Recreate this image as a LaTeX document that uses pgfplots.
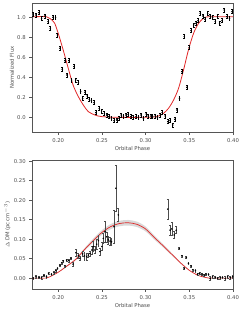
\documentclass[border=0pt]{standalone}
\usepackage{pgfplots}
\pgfplotsset{compat=1.18}
\usepgfplotslibrary{fillbetween}
\usepackage{fontspec}
\setmainfont{DejaVu Sans}
\usepackage{pgfplotstable}

\pgfplotstableread{
x y ey
0.1713 1.033 0.02
0.1744 1.023 0.02
0.1778 1.047 0.02
0.1810 0.990 0.02
0.1847 1.013 0.02
0.1885 0.957 0.02
0.1910 0.890 0.02
0.1940 1.000 0.02
0.1970 1.000 0.02
0.1990 0.823 0.02
0.2020 0.690 0.02
0.2046 0.480 0.02
0.2076 0.567 0.02
0.2100 0.423 0.02
0.2120 0.567 0.02
0.2153 0.373 0.02
0.2180 0.507 0.02
0.2200 0.373 0.02
0.2230 0.347 0.02
0.2256 0.257 0.02
0.2280 0.190 0.02
0.2306 0.250 0.02
0.2333 0.213 0.02
0.2356 0.180 0.02
0.2380 0.167 0.02
0.2410 0.147 0.02
0.2430 0.047 0.02
0.2470 0.090 0.02
0.2497 0.063 0.02
0.2528 0.040 0.02
0.2555 0.023 0.02
0.2580 0.007 0.02
0.2610 -0.010 0.02
0.2639 -0.033 0.02
0.2670 -0.027 0.02
0.2696 -0.010 0.02
0.2720 0.023 0.02
0.2746 0.013 0.02
0.2776 0.023 0.02
0.2800 0.030 0.02
0.2830 0.007 0.02
0.2860 0.000 0.02
0.2890 0.007 0.02
0.2918 0.000 0.02
0.2948 0.023 0.02
0.2975 -0.010 0.02
0.3006 0.033 0.02
0.3030 0.013 0.02
0.3060 0.013 0.02
0.3080 0.007 0.02
0.3110 0.013 0.02
0.3136 0.000 0.02
0.3166 0.023 0.02
0.3190 0.047 0.02
0.3224 0.013 0.02
0.3254 -0.043 0.02
0.3280 -0.033 0.02
0.3310 -0.077 0.02
0.3335 -0.020 0.02
0.3358 0.073 0.02
0.3388 0.190 0.02
0.3415 0.457 0.02
0.3442 0.807 0.02
0.3472 0.300 0.02
0.3500 0.697 0.02
0.3520 0.867 0.02
0.3550 0.923 0.02
0.3576 0.940 0.02
0.3600 0.967 0.02
0.3625 1.040 0.02
0.3656 1.013 0.02
0.3680 0.980 0.02
0.3710 1.040 0.02
0.3740 1.013 0.02
0.3767 1.000 0.02
0.3797 0.957 0.02
0.3824 1.007 0.02
0.3847 0.940 0.02
0.3874 0.967 0.02
0.3900 1.073 0.02
0.3930 1.007 0.02
0.3960 0.990 0.02
0.3989 1.057 0.02
}\fluxdata

\pgfplotstableread{
x y
0.1700 1.005
0.1866 1.005
0.1935 0.967
0.1960 0.940
0.2000 0.840
0.2057 0.673
0.2115 0.490
0.2170 0.323
0.2230 0.207
0.2287 0.123
0.2344 0.057
0.2420 0.023
0.2497 0.007
0.2670 0.000
0.2975 0.000
0.3128 0.007
0.3205 0.040
0.3262 0.090
0.3320 0.173
0.3377 0.290
0.3434 0.473
0.3490 0.673
0.3549 0.840
0.3606 0.940
0.3663 0.990
0.3720 1.005
0.4000 1.005
}\fluxmodel

\pgfplotstableread{
x y ey
0.1713 0.0000 0.003
0.1744 0.0034 0.003
0.1780 0.0017 0.003
0.1810 0.0010 0.003
0.1836 0.0070 0.003
0.1866 0.0034 0.003
0.1890 0.0120 0.003
0.1923 0.0100 0.003
0.1950 0.0137 0.003
0.1973 0.0190 0.003
0.1992 0.0250 0.003
0.2020 0.0330 0.003
0.2040 0.0390 0.003
0.2057 0.0440 0.003
0.2076 0.0310 0.003
0.2096 0.0460 0.003
0.2120 0.0450 0.003
0.2145 0.0510 0.003
0.2170 0.0360 0.006
0.2203 0.0650 0.009
0.2230 0.0570 0.006
0.2248 0.0510 0.004
0.2280 0.0620 0.006
0.2300 0.0570 0.010
0.2325 0.0550 0.009
0.2344 0.0590 0.006
0.2363 0.0630 0.006
0.2386 0.0720 0.010
0.2400 0.0810 0.013
0.2420 0.0720 0.009
0.2440 0.0870 0.013
0.2460 0.0960 0.013
0.2478 0.0680 0.009
0.2500 0.0810 0.010
0.2516 0.1020 0.013
0.2535 0.1190 0.026
0.2555 0.1060 0.013
0.2573 0.0980 0.010
0.2593 0.0950 0.010
0.2610 0.0930 0.009
0.2639 0.1320 0.043
0.2660 0.2306 0.058
0.2688 0.1620 0.017
0.3254 0.1770 0.026
0.3280 0.1230 0.013
0.3300 0.1260 0.017
0.3327 0.1106 0.009
0.3350 0.1230 0.009
0.3384 0.0760 0.003
0.3415 0.0570 0.003
0.3442 0.0250 0.003
0.3465 0.0530 0.003
0.3490 0.0380 0.003
0.3520 0.0310 0.003
0.3540 0.0210 0.003
0.3570 0.0190 0.003
0.3595 0.0103 0.003
0.3618 0.0120 0.003
0.3644 0.0100 0.003
0.3670 0.0077 0.003
0.3690 0.0103 0.003
0.3720 0.0094 0.003
0.3740 -0.0010 0.005
0.3767 0.0034 0.003
0.3797 0.0017 0.003
0.3824 0.0000 0.003
0.3855 0.0010 0.003
0.3880 0.0017 0.003
0.3910 -0.0010 0.005
0.3939 0.0034 0.003
0.3970 0.0010 0.003
0.3996 0.0034 0.003
}\dmdata

\pgfplotstableread{
x y lo hi
0.170 0.000 0.000 0.000
0.186 0.000 0.000 0.000
0.190 0.003 0.0028 0.0032
0.200 0.015 0.0143 0.0158
0.210 0.031 0.0295 0.0326
0.220 0.048 0.0456 0.0504
0.230 0.073 0.0694 0.0767
0.240 0.096 0.0912 0.1008
0.250 0.117 0.1112 0.1229
0.260 0.132 0.1254 0.1386
0.270 0.140 0.1330 0.1470
0.280 0.142 0.1349 0.1491
0.290 0.138 0.1311 0.1449
0.300 0.126 0.1197 0.1323
0.310 0.104 0.0988 0.1092
0.320 0.083 0.0789 0.0872
0.330 0.061 0.0580 0.0641
0.340 0.039 0.0371 0.0410
0.350 0.020 0.0190 0.0210
0.360 0.007 0.0067 0.0074
0.370 0.001 0.0010 0.0011
0.375 0.000 0.000 0.000
0.400 0.000 0.000 0.000
}\dmmodel

\definecolor{modelred}{RGB}{225,40,40}
\definecolor{framegray}{RGB}{85,85,85}

\pgfplotsset{
  myax/.style={
    scale only axis, width=201pt, height=129pt,
    xmin=0.17, xmax=0.40,
    xtick={0.20,0.25,0.30,0.35,0.40},
    x tick label style={/pgf/number format/.cd, fixed, fixed zerofill, precision=2},
    axis line style={framegray, line width=0.5pt},
    tick style={framegray, line width=0.45pt},
    tick align=outside, major tick length=2.8pt,
    xtick pos=bottom, ytick pos=left,
    ticklabel style={font=\fontsize{5.3}{6}\selectfont, text=black!70},
    label style={font=\fontsize{5.3}{6}\selectfont, text=black!70},
    /pgf/number format/assume math mode=true,
    xlabel={Orbital Phase},
    xlabel style={yshift=2.5pt},
    ylabel style={yshift=-3.5pt},
    clip=true,
  },
  errpts/.style={only marks, mark=*, mark size=0.55pt, black,
    error bars/y dir=both, error bars/y explicit,
    error bars/error bar style={#1, line width=0.4pt},
    error bars/error mark options={#1, rotate=90, mark size=0.9pt, line width=0.4pt}},
}

\begin{document}
\begin{tikzpicture}
\begin{axis}[myax, at={(32pt,-3pt)}, anchor=north west,
  ymin=-0.147, ymax=1.143,
  ytick={0,0.2,0.4,0.6,0.8,1.0},
  y tick label style={/pgf/number format/.cd, fixed, fixed zerofill, precision=1},
  ylabel={Normalized Flux}]
\addplot[modelred, line width=0.8pt, smooth] table[x=x,y=y] {\fluxmodel};
\addplot[errpts=black] table[x=x,y=y,y error=ey] {\fluxdata};
\end{axis}
\begin{axis}[myax, at={(32pt,-160pt)}, anchor=north west,
  ymin=-0.028, ymax=0.303,
  ytick={0,0.05,0.10,0.15,0.20,0.25,0.30},
  y tick label style={/pgf/number format/.cd, fixed, fixed zerofill, precision=2},
  ylabel={$\Delta$\,DM (pc\,cm$^{-3}$)}]
\addplot[name path=hi, draw=none, smooth, forget plot] table[x=x,y=hi] {\dmmodel};
\addplot[name path=lo, draw=none, smooth, forget plot] table[x=x,y=lo] {\dmmodel};
\addplot[black!15, forget plot] fill between[of=hi and lo];
\addplot[modelred, line width=0.7pt, smooth] table[x=x,y=y] {\dmmodel};
\addplot[errpts=black!70] table[x=x,y=y,y error=ey] {\dmdata};
\end{axis}
\pgfresetboundingbox
\path[use as bounding box] (0,0) rectangle (241pt,-309pt);
\end{tikzpicture}
\end{document}
